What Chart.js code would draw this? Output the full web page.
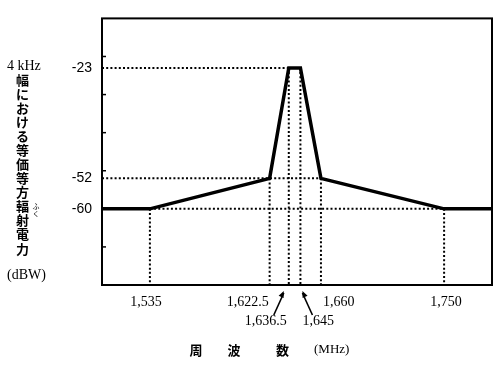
<!DOCTYPE html>
<html lang="ja">
<head>
<meta charset="utf-8">
<title>4 kHz幅における等価等方輻射電力</title>
<script src="https://cdn.jsdelivr.net/npm/chart.js@4.4.1/dist/chart.umd.min.js"></script>
<style>
  html, body { margin: 0; padding: 0; background: #fff; }
  #wrap { width: 500px; height: 367px; }
</style>
</head>
<body>
<div id="wrap"><canvas id="eirpChart" width="500" height="367"></canvas></div>
<script>
// mask breakpoints: frequency (MHz) and level (dBW)
const freqs = [1500, 1535, 1622.5, 1636.5, 1645, 1660, 1750, 1785];
const levels = [-60, -60, -52, -23, -23, -52, -60, -60];

// axis ranges
const xRange = [1500, 1785];
const yRange = [-80, -10];

// tick labels
const yTickValues = [-23, -52, -60];
const yMinorTicks = [-20, -30, -40, -50, -60, -70];
const xTickValues = [1535, 1622.5, 1660, 1750];
const xTickText = ['1,535', '1,622.5', '1,660', '1,750'];
const xArrowValues = [1636.5, 1645];
const xArrowText = ['1,636.5', '1,645'];

// dotted guides: horizontal [level, from, to], vertical [freq, level]
const hGuides = [[-23, 1500, 1636.5], [-52, 1500, 1660], [-60, 1535, 1750]];
const vGuides = [[1535, -60], [1622.5, -52], [1636.5, -23], [1645, -23], [1660, -52], [1750, -60]];

// axis titles
const yTitleTop = '4 kHz';
const yTitleChars = ['幅', 'に', 'お', 'け', 'る', '等', '価', '等', '方', '輻', '射', '電', '力'];
const yTitleUnit = '(dBW)';
const xTitleChars = ['周', '波', '数'];
const xTitleUnit = '(MHz)';

const serif = '"Liberation Serif", "DejaVu Serif", serif';
const jp = '"Noto Sans CJK JP", sans-serif';

// build datasets
const guideStyle = {
    borderColor: '#000',
    borderWidth: 2,
    borderDash: [2, 2.2],
    pointRadius: 0,
    fill: false
};
const datasets = [];
hGuides.forEach(g => {
    datasets.push(Object.assign({ data: [{ x: g[1], y: g[0] }, { x: g[2], y: g[0] }] }, guideStyle));
});
vGuides.forEach(g => {
    datasets.push(Object.assign({ data: [{ x: g[0], y: g[1] }, { x: g[0], y: yRange[0] }] }, guideStyle));
});
datasets.push({
    data: freqs.map((f, i) => ({ x: f, y: levels[i] })),
    borderColor: '#000',
    borderWidth: 3.5,
    borderJoinStyle: 'miter',
    pointRadius: 0,
    fill: false
});

// box, minor ticks, tick labels, arrows and titles
const decorations = {
    id: 'decorations',
    afterDraw(chart) {
        const ctx = chart.ctx;
        const area = chart.chartArea;
        const x = chart.scales.x;
        const y = chart.scales.y;
        ctx.save();
        ctx.strokeStyle = '#000';
        ctx.fillStyle = '#000';

        // frame
        ctx.lineWidth = 2;
        ctx.strokeRect(area.left, area.top, area.right - area.left, area.bottom - area.top);

        // small inward ticks on the left axis
        ctx.lineWidth = 1.5;
        yMinorTicks.forEach(v => {
            const py = y.getPixelForValue(v);
            ctx.beginPath();
            ctx.moveTo(area.left, py);
            ctx.lineTo(area.left + 4, py);
            ctx.stroke();
        });

        // x tick labels, first row
        ctx.font = '14px ' + serif;
        ctx.textBaseline = 'middle';
        xTickValues.forEach((v, i) => {
            const px = x.getPixelForValue(v);
            if (i === 1) {
                ctx.textAlign = 'right';
                ctx.fillText(xTickText[i], px - 1, 302);
            } else if (i === 2) {
                ctx.textAlign = 'left';
                ctx.fillText(xTickText[i], px + 2, 302);
            } else {
                ctx.textAlign = 'center';
                ctx.fillText(xTickText[i], px - (i === 0 ? 4 : -2), 302);
            }
        });

        // second row with arrows
        xArrowValues.forEach((v, i) => {
            const px = x.getPixelForValue(v);
            const dir = i === 0 ? -1 : 1;
            const tipX = px + dir * (i === 0 ? 5 : 2);
            const tailX = tipX + dir * 10;
            ctx.lineWidth = 1.6;
            ctx.beginPath();
            ctx.moveTo(tailX, 315);
            ctx.lineTo(tipX, 293);
            ctx.stroke();
            const ang = Math.atan2(293 - 315, tipX - tailX);
            ctx.beginPath();
            ctx.moveTo(tipX, 291);
            ctx.lineTo(tipX - 7 * Math.cos(ang - 0.4), 291 - 7 * Math.sin(ang - 0.4));
            ctx.lineTo(tipX - 7 * Math.cos(ang + 0.4), 291 - 7 * Math.sin(ang + 0.4));
            ctx.closePath();
            ctx.fill();
            ctx.textAlign = i === 0 ? 'right' : 'left';
            ctx.fillText(xArrowText[i], px + dir * 2, 321);
        });

        // y axis title, stacked vertically
        ctx.textAlign = 'left';
        ctx.font = '14px ' + serif;
        ctx.fillText(yTitleTop, 7, 66);
        ctx.fillText(yTitleUnit, 7, 275);
        ctx.textAlign = 'center';
        ctx.font = 'bold 13px ' + jp;
        yTitleChars.forEach((c, i) => {
            ctx.fillText(c, 22.5, 80 + i * 14.05);
        });
        // ruby for 輻
        ctx.font = '7px ' + jp;
        ctx.fillText('ふ', 36, 206);
        ctx.fillText('く', 36, 213);

        // x axis title
        ctx.font = 'bold 13px ' + jp;
        [196, 234, 282.5].forEach((cx, i) => ctx.fillText(xTitleChars[i], cx, 350));
        ctx.textAlign = 'left';
        ctx.font = '13px ' + serif;
        ctx.fillText(xTitleUnit, 314, 350);

        ctx.restore();
    }
};

window.addEventListener('DOMContentLoaded', () => {
    new Chart(document.getElementById('eirpChart'), {
        type: 'line',
        data: { datasets: datasets },
        options: {
            responsive: false,
            devicePixelRatio: 1,
            animation: false,
            layout: { padding: { top: 14, right: 8, left: 0, bottom: 0 } },
            plugins: {
                legend: { display: false },
                tooltip: { enabled: false }
            },
            scales: {
                x: {
                    type: 'linear',
                    min: xRange[0],
                    max: xRange[1],
                    grid: { display: false },
                    border: { display: false },
                    ticks: { display: false },
                    afterFit: s => { s.height = 82; }
                },
                y: {
                    type: 'linear',
                    min: yRange[0],
                    max: yRange[1],
                    grid: { display: false, drawTicks: false },
                    border: { display: false },
                    afterBuildTicks: s => { s.ticks = yTickValues.map(v => ({ value: v })); },
                    ticks: {
                        padding: 10,
                        color: '#000',
                        font: { family: '"Liberation Sans", Arial, sans-serif', size: 14 },
                        callback: v => String(v)
                    },
                    afterFit: s => { s.width = 102; }
                }
            }
        },
        plugins: [decorations]
    });
});
</script>
</body>
</html>
